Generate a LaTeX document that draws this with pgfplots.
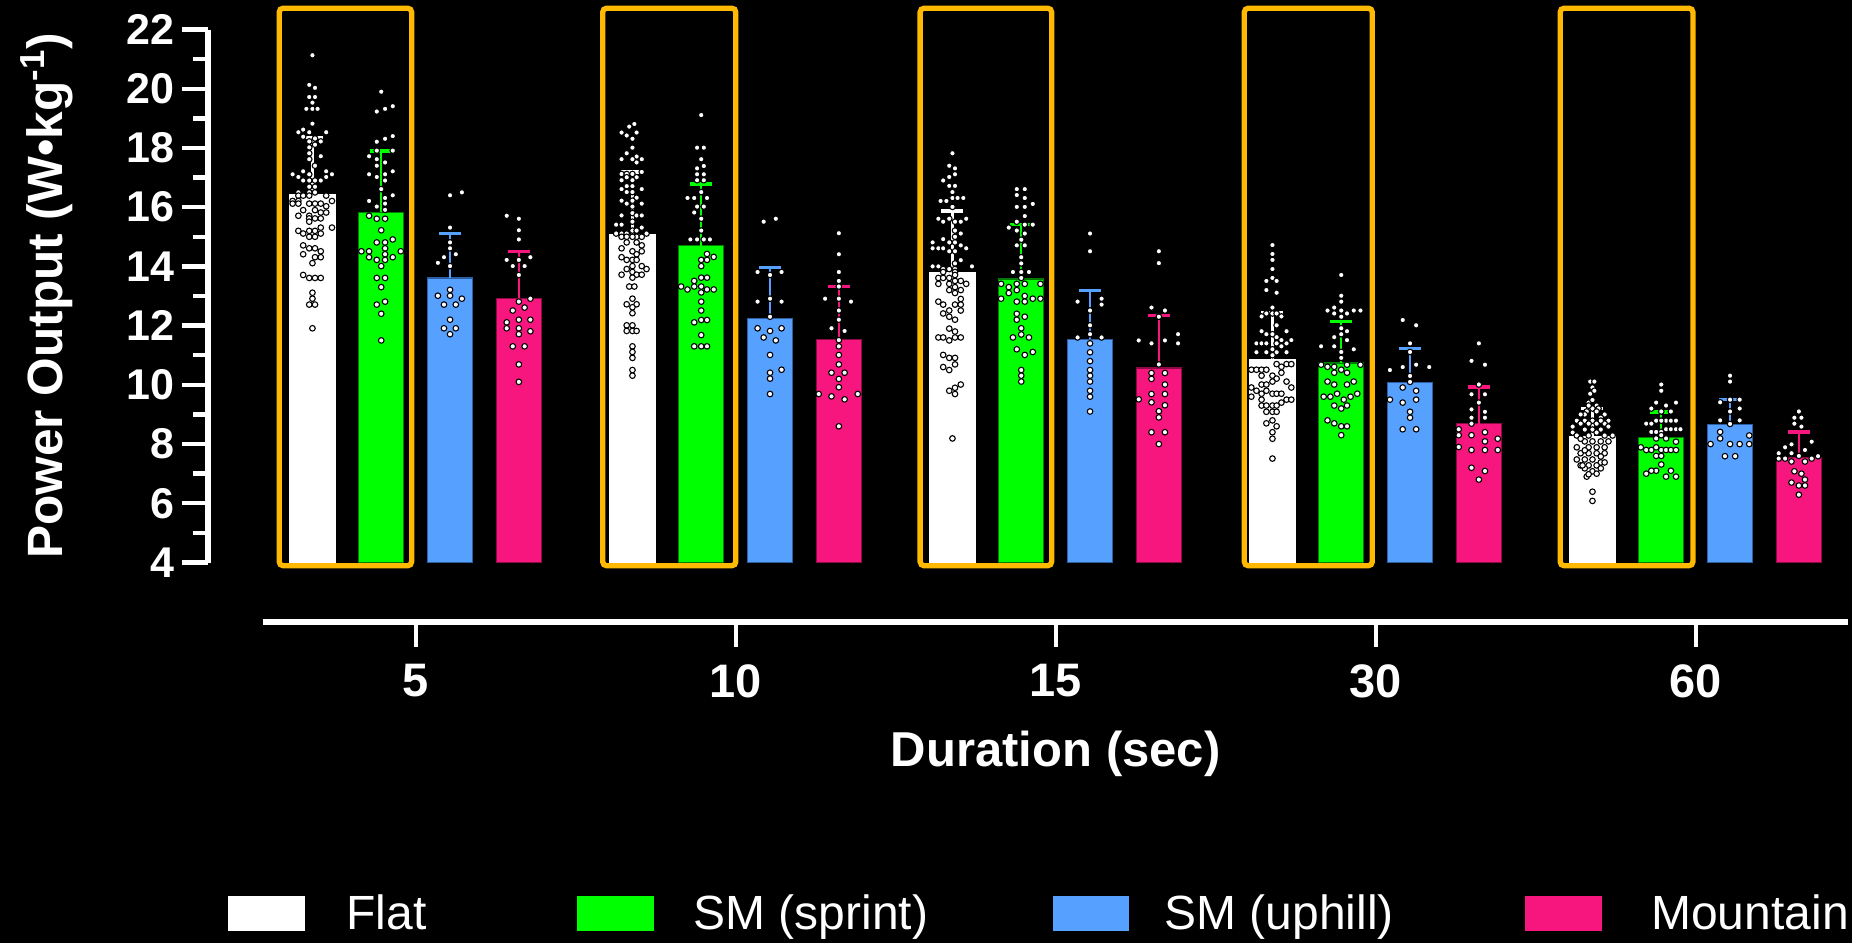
\documentclass[border=0pt]{standalone}
\usepackage{pgfplots}
\pgfplotsset{compat=1.18}
\usepackage{pgfplotstable}
\usepackage{fontspec}
\setmainfont{Liberation Sans}

\definecolor{sprintfill}{RGB}{0,255,0}
\definecolor{sprintedge}{RGB}{0,125,0}
\definecolor{uphillfill}{RGB}{86,161,255}
\definecolor{uphilledge}{RGB}{45,95,165}
\definecolor{mountfill}{RGB}{246,22,126}
\definecolor{mountedge}{RGB}{140,10,70}
\definecolor{boxorange}{RGB}{255,185,0}

% group means and SD (g: 0=5 s, 1=10 s, 2=15 s, 3=30 s, 4=60 s)
\pgfplotstableread{
g flat fsd sprint ssd uphill usd mountain msd
0 16.41 1.95 15.83 2.07 13.61 1.51 12.91 1.60
1 15.06 2.13 14.70 2.08 12.25 1.72 11.54 1.78
2 13.78 2.09 13.58 1.83 11.54 1.64 10.57 1.78
3 10.84 1.61 10.74 1.40 10.08 1.14  8.69 1.24
4  8.25 0.95  8.23 0.85  8.66 0.85  7.55 0.86
}\means

% individual riders: g = duration group, dx = swarm offset, v = power output
\pgfplotstableread{
g dx v
0 0 21.13
0 -0.010 20.13
0 0.008 20.03
0 -0.010 19.72
0 0.008 19.72
0 0 19.53
0 -0.019 19.32
0 0 19.32
0 0.016 19.32
0 0 18.82
0 -0.029 18.62
0 -0.044 18.53
0 -0.010 18.53
0 0.043 18.53
0 -0.029 18.38
0 0.008 18.32
0 -0.010 18.22
0 0.026 18.22
0 -0.010 18.02
0 0.008 18.11
0 -0.010 17.82
0 0.026 17.72
0 -0.010 17.62
0 0.008 17.40
0 -0.029 17.21
0 0.043 17.21
0 -0.062 17.11
0 -0.010 17.11
0 0.061 17.11
0 -0.044 17.02
0 0.043 17.02
0 -0.029 16.90
0 -0.010 16.90
0 0.008 16.90
0 0.026 16.90
0 -0.010 16.69
0 0.008 16.69
0 -0.044 16.50
0 -0.010 16.50
0 0.008 16.50
0 -0.044 16.39
0 -0.029 16.39
0 -0.010 16.39
0 0.043 16.39
0 -0.062 16.21
0 -0.044 16.21
0 0.061 16.21
0 -0.062 16.12
0 -0.044 16.12
0 -0.010 16.12
0 0.008 16.12
0 0.026 16.12
0 0.043 16.03
0 -0.029 15.90
0 0.008 15.90
0 0.026 15.82
0 0.043 15.82
0 -0.044 15.71
0 -0.010 15.71
0 -0.010 15.62
0 0.008 15.62
0 0.026 15.62
0 -0.010 15.51
0 0.061 15.31
0 0.026 15.31
0 -0.044 15.20
0 -0.010 15.20
0 0.008 15.20
0 -0.029 15.11
0 0.026 15.11
0 -0.010 15.00
0 0.008 15.00
0 -0.029 14.71
0 -0.010 14.61
0 0.008 14.61
0 0.026 14.51
0 -0.029 14.41
0 0.008 14.31
0 0.026 14.31
0 0 14.11
0 -0.029 13.71
0 -0.010 13.61
0 0.008 13.61
0 0.026 13.61
0 0 13.11
0 0 12.91
0 -0.010 12.71
0 0.008 12.71
0 0 11.91
1 0.006 18.81
1 -0.010 18.72
1 -0.034 18.52
1 0.013 18.52
1 -0.018 18.42
1 0 18.31
1 0 18.01
1 -0.018 17.82
1 0.013 17.71
1 -0.034 17.62
1 0 17.62
1 0.029 17.62
1 0.013 17.51
1 -0.034 17.12
1 -0.018 17.12
1 0 17.12
1 0.029 17.19
1 -0.018 17.01
1 0.013 17.01
1 -0.034 16.91
1 0 16.91
1 -0.018 16.71
1 0 16.71
1 -0.034 16.61
1 0.029 16.61
1 -0.018 16.51
1 0 16.51
1 0.013 16.32
1 -0.034 16.22
1 0 16.22
1 -0.018 16.12
1 0.029 16.12
1 0 16.02
1 -0.034 15.72
1 0 15.80
1 0.013 15.72
1 0.029 15.72
1 -0.051 15.41
1 -0.034 15.41
1 0 15.51
1 0.029 15.31
1 0 15.21
1 0.013 15.21
1 -0.051 15.11
1 -0.034 15.11
1 -0.018 15.11
1 0.044 15.11
1 0.013 15.00
1 -0.034 15.00
1 -0.018 15.00
1 0 15.00
1 0.029 15.00
1 -0.018 14.81
1 0.013 14.81
1 0.029 14.71
1 -0.034 14.61
1 0 14.51
1 0.029 14.51
1 0.013 14.41
1 -0.034 14.31
1 -0.018 14.22
1 0 14.22
1 0.013 14.22
1 -0.018 13.91
1 0 14.01
1 0.029 14.01
1 0.044 13.91
1 -0.034 13.72
1 0 13.81
1 0.013 13.72
1 0.029 13.72
1 0 13.62
1 -0.010 13.32
1 0.006 13.32
1 0 12.91
1 -0.018 12.72
1 0.013 12.72
1 0 12.62
1 0 12.42
1 -0.018 12.01
1 0 12.01
1 -0.018 11.82
1 0 11.82
1 0.013 11.82
1 0 11.30
1 0 11.11
1 0 10.91
1 0 10.50
1 0 10.31
2 0 17.82
2 -0.010 17.40
2 0.008 17.31
2 0.008 17.11
2 -0.010 17.02
2 -0.029 16.90
2 -0.010 16.72
2 0.008 16.72
2 0 16.51
2 -0.037 16.21
2 -0.019 16.21
2 0 16.31
2 0.016 16.31
2 0.034 16.31
2 0 16.01
2 -0.044 15.61
2 -0.029 15.51
2 -0.010 15.61
2 0.008 15.51
2 0.026 15.51
2 0.043 15.61
2 0.008 15.21
2 0.026 15.11
2 0.008 15.00
2 -0.029 14.92
2 0.008 14.81
2 -0.062 14.81
2 -0.010 14.81
2 0.026 14.71
2 0.043 14.61
2 -0.062 14.61
2 -0.044 14.61
2 -0.029 14.61
2 -0.010 14.51
2 0.008 14.51
2 0.026 14.21
2 0.008 14.10
2 -0.062 14.00
2 -0.044 14.00
2 0.061 14.00
2 -0.029 13.91
2 -0.010 13.91
2 0.008 13.91
2 -0.029 13.81
2 0.008 13.81
2 0.008 13.71
2 -0.044 13.61
2 -0.029 13.61
2 -0.010 13.61
2 0.008 13.51
2 0.026 13.51
2 0.043 13.41
2 -0.044 13.41
2 -0.010 13.41
2 0.008 13.30
2 -0.010 13.20
2 0.026 13.20
2 0.008 13.10
2 0.026 12.90
2 -0.044 12.81
2 -0.029 12.71
2 0.008 12.71
2 0.026 12.71
2 0.026 12.51
2 -0.010 12.51
2 -0.029 12.41
2 -0.010 12.30
2 0.008 12.20
2 -0.010 11.90
2 0.008 11.80
2 -0.044 11.60
2 -0.029 11.60
2 0.008 11.60
2 0.026 11.60
2 -0.010 11.50
2 -0.029 11.01
2 -0.010 10.91
2 0.008 10.91
2 0.008 10.69
2 -0.029 10.60
2 -0.010 10.50
2 0.026 10.01
2 0.008 9.90
2 -0.010 9.80
2 0.008 9.69
2 0 8.19
3 0 14.72
3 0 14.42
3 0 14.22
3 0 13.91
3 -0.019 13.51
3 0 13.61
3 0.013 13.51
3 -0.019 13.20
3 0.013 13.11
3 0 12.61
3 -0.019 12.41
3 0 12.41
3 0.013 12.41
3 -0.034 12.31
3 0.028 12.31
3 0.013 12.01
3 -0.034 11.81
3 0.044 11.81
3 -0.019 11.71
3 0 11.71
3 0.013 11.61
3 0.028 11.51
3 0.059 11.51
3 -0.050 11.40
3 -0.034 11.40
3 -0.019 11.40
3 0.013 11.40
3 0.044 11.40
3 0.028 11.30
3 0 11.20
3 -0.050 11.10
3 -0.019 11.10
3 0.013 11.10
3 0.044 11.10
3 0 11.00
3 0.013 10.70
3 0.028 10.61
3 0.044 10.70
3 0.059 10.70
3 -0.066 10.51
3 -0.050 10.51
3 -0.034 10.51
3 -0.019 10.51
3 0.028 10.41
3 -0.034 10.31
3 0 10.31
3 0.013 10.21
3 0 10.11
3 0.044 10.11
3 -0.066 9.91
3 -0.034 10.01
3 -0.019 10.01
3 0.059 9.91
3 -0.050 9.80
3 -0.034 9.70
3 -0.019 9.80
3 0 9.70
3 0.013 9.70
3 0.028 9.70
3 -0.066 9.60
3 0.044 9.50
3 0.059 9.50
3 -0.034 9.50
3 0.028 9.40
3 -0.034 9.30
3 -0.019 9.30
3 0 9.30
3 0.013 9.30
3 -0.019 9.09
3 0 9.09
3 0.013 9.09
3 0 8.80
3 -0.019 8.70
3 0.013 8.60
3 0 8.40
3 0 8.18
3 0 7.51
4 -0.007 10.11
4 0.006 10.11
4 0 9.91
4 -0.007 9.70
4 0.006 9.80
4 -0.012 9.40
4 0 9.49
4 0.013 9.30
4 -0.018 9.10
4 0 9.20
4 0.019 9.20
4 -0.024 9.00
4 -0.037 9.00
4 0.038 9.00
4 -0.049 8.79
4 -0.024 8.79
4 0 8.79
4 0.026 8.89
4 0.050 8.79
4 -0.037 8.69
4 -0.012 8.69
4 0.013 8.69
4 0.038 8.69
4 -0.024 8.49
4 0 8.49
4 0.026 8.49
4 -0.062 8.39
4 -0.049 8.29
4 -0.012 8.29
4 0.013 8.39
4 0.038 8.29
4 0.063 8.29
4 -0.024 8.09
4 0 8.09
4 0.026 8.09
4 -0.012 7.89
4 0.013 7.89
4 -0.037 7.69
4 -0.012 7.69
4 0.013 7.69
4 0.038 7.69
4 -0.024 7.48
4 0 7.48
4 0.026 7.38
4 -0.037 7.28
4 -0.012 7.28
4 0.013 7.28
4 0 7.08
4 -0.018 6.90
4 0.013 7.00
4 0 6.39
4 0 6.08
4 -0.012 9.30
4 0.013 9.10
4 0.026 8.79
4 -0.062 8.59
4 0.050 8.59
4 -0.037 8.18
4 0.050 8.09
4 -0.049 7.89
4 0.038 7.89
4 -0.024 7.79
4 0.026 7.58
4 -0.049 7.48
4 0.038 7.38
4 -0.024 7.18
4 0.026 7.18
4 -0.012 6.98
4 -0.031 7.28
}\flatdots

\pgfplotstableread{
g dx v
0 0 19.90
0 -0.014 19.23
0 0.012 19.32
0 0.036 19.41
0 -0.014 18.21
0 0.012 18.31
0 0.036 18.40
0 -0.014 17.91
0 0.036 17.91
0 -0.038 17.72
0 -0.014 17.62
0 -0.014 17.40
0 0.012 17.51
0 -0.038 17.11
0 -0.014 17.02
0 0.012 17.11
0 0.036 17.21
0 0.012 16.90
0 0 16.61
0 0.036 16.40
0 0.012 16.31
0 -0.038 16.21
0 -0.014 16.02
0 0.012 16.12
0 0.012 15.91
0 -0.038 15.71
0 -0.014 15.61
0 0.012 15.61
0 0 15.22
0 -0.014 14.81
0 0.012 14.81
0 0.036 14.91
0 0.012 14.61
0 -0.062 14.51
0 -0.038 14.51
0 0.061 14.51
0 0.012 14.41
0 -0.038 14.31
0 -0.014 14.22
0 0.012 14.22
0 0.036 14.31
0 0 14.01
0 -0.014 13.61
0 0.012 13.61
0 0 13.30
0 0.012 12.81
0 -0.014 12.71
0 0 12.40
0 0 11.50
1 0 19.11
1 -0.013 18.01
1 0.008 18.01
1 0 17.62
1 0.008 17.39
1 -0.013 17.31
1 -0.013 17.11
1 0.008 17.11
1 -0.013 16.91
1 0.008 16.91
1 0 16.51
1 -0.043 16.31
1 -0.022 16.31
1 0.018 16.31
1 -0.013 16.02
1 0.008 16.02
1 -0.022 15.82
1 0 15.61
1 0 15.21
1 -0.034 14.91
1 -0.013 14.91
1 0.008 14.91
1 0.027 14.91
1 0.018 14.42
1 0.039 14.32
1 0 14.22
1 0.018 14.22
1 0 14.01
1 -0.022 13.51
1 0 13.62
1 0.018 13.62
1 -0.063 13.32
1 -0.043 13.22
1 -0.022 13.32
1 0 13.32
1 0 13.12
1 0.018 13.22
1 0.039 13.22
1 0 12.81
1 0 12.51
1 -0.022 12.11
1 0 12.19
1 0.018 12.19
1 0 11.68
1 -0.022 11.30
1 0 11.30
1 0.018 11.30
2 -0.014 16.61
2 0.011 16.61
2 -0.014 16.41
2 0.011 16.31
2 0.036 16.11
2 -0.014 16.01
2 0.011 16.01
2 0.011 15.70
2 -0.014 15.51
2 -0.039 15.31
2 0.011 15.41
2 0.036 15.41
2 -0.014 15.21
2 0.011 15.11
2 0 14.90
2 -0.014 14.71
2 0.011 14.71
2 0 14.31
2 0 14.10
2 -0.026 13.81
2 0 13.81
2 0.024 13.81
2 0 13.61
2 -0.063 13.41
2 -0.039 13.30
2 -0.014 13.41
2 0.011 13.41
2 0.060 13.41
2 -0.014 13.20
2 -0.039 13.10
2 0.011 13.00
2 -0.063 12.91
2 0.036 12.91
2 0.060 12.91
2 -0.014 12.81
2 0.011 12.81
2 -0.014 12.40
2 0.011 12.30
2 -0.014 12.20
2 0 11.91
2 -0.026 11.60
2 0 11.70
2 0.024 11.60
2 -0.014 11.20
2 0.036 11.11
2 0.011 11.01
2 0 10.50
2 0 10.31
2 0 10.11
3 0 13.71
3 0 13.01
3 0 12.81
3 -0.022 12.61
3 -0.043 12.51
3 0 12.51
3 0.018 12.41
3 0.039 12.51
3 0.060 12.51
3 -0.022 12.41
3 0 12.30
3 0 11.91
3 0.018 11.81
3 -0.022 11.61
3 0.018 11.51
3 0 11.71
3 -0.063 11.30
3 -0.022 11.30
3 0 11.11
3 0.039 11.20
3 0 10.91
3 -0.063 10.68
3 -0.043 10.61
3 -0.022 10.61
3 0 10.51
3 0.018 10.68
3 0.060 10.68
3 -0.022 10.41
3 0.018 10.41
3 -0.043 10.11
3 -0.022 10.01
3 0.018 10.01
3 0.039 10.11
3 -0.055 9.60
3 -0.034 9.60
3 -0.013 9.70
3 0.008 9.50
3 0.029 9.60
3 0.050 9.70
3 -0.022 9.30
3 0 9.20
3 0.018 9.30
3 -0.043 8.80
3 -0.022 8.70
3 0 8.60
3 0.018 8.60
3 0 8.30
4 0 10.01
4 0 9.80
4 -0.016 9.40
4 0.015 9.30
4 0.046 9.40
4 -0.031 9.20
4 0 9.10
4 0.030 9.10
4 -0.016 8.79
4 0.015 8.79
4 0.030 8.79
4 0.046 8.79
4 -0.047 8.69
4 -0.031 8.69
4 0 8.79
4 -0.031 8.41
4 -0.016 8.41
4 0 8.41
4 0.015 8.50
4 0.030 8.50
4 0.046 8.50
4 0.060 8.50
4 -0.016 8.19
4 0.015 8.19
4 0 8.30
4 0.046 8.08
4 -0.064 7.89
4 -0.047 7.80
4 -0.031 7.80
4 -0.016 7.89
4 0 7.80
4 0.015 7.80
4 0.030 7.80
4 0.046 7.80
4 -0.016 7.60
4 0 7.60
4 0 7.31
4 -0.016 7.10
4 0.030 7.10
4 -0.047 7.00
4 -0.031 7.10
4 0.015 6.90
4 0.046 6.90
}\sprintdots

\pgfplotstableread{
g dx v
0 0 16.40
0 0.037 16.50
0 0 15.31
0 0 14.81
0 0 14.61
0 0.018 14.41
0 -0.019 14.31
0 -0.038 14.12
0 0 14.01
0 0 13.21
0 -0.038 13.01
0 0 13.01
0 0.037 12.91
0 -0.019 12.71
0 0.018 12.71
0 0 12.20
0 -0.019 11.91
0 0.018 11.91
0 0 11.71
1 -0.020 15.51
1 0.018 15.61
1 -0.039 13.81
1 0 13.71
1 0.036 13.81
1 -0.039 12.81
1 0 12.91
1 0.036 12.81
1 0 12.30
1 -0.039 11.91
1 0 11.82
1 0.036 11.91
1 -0.020 11.60
1 0.018 11.50
1 0 11.01
1 0.036 10.51
1 0 10.41
1 0 10.21
1 0 9.69
2 0 15.11
2 0 14.51
2 -0.039 12.81
2 0.036 12.91
2 0.036 12.71
2 0 12.51
2 0 12.01
2 0 11.71
2 -0.039 11.60
2 0.036 11.60
2 0 11.40
2 0 11.10
2 0 10.80
2 0 10.50
2 0 10.31
2 0 10.11
2 0 9.80
2 0 9.60
2 0 9.10
3 -0.023 12.19
3 0.019 12.01
3 0 11.40
3 0 11.11
3 -0.063 10.50
3 -0.023 10.60
3 0.019 10.68
3 0.060 10.60
3 0 10.30
3 0 10.10
3 -0.023 9.91
3 0.019 9.80
3 -0.063 9.50
3 -0.023 9.40
3 0.019 9.50
3 0 9.09
3 0 8.89
3 -0.023 8.50
3 0.019 8.50
4 0 10.31
4 0 10.11
4 -0.031 9.41
4 0 9.50
4 0.030 9.50
4 0 9.10
4 0.030 9.20
4 -0.031 8.80
4 0.030 8.80
4 0 8.68
4 -0.031 8.41
4 -0.031 8.19
4 0.060 8.29
4 -0.061 8.00
4 0 8.00
4 0.030 8.00
4 0.060 8.00
4 -0.016 7.59
4 0.016 7.59
}\uphilldots

\pgfplotstableread{
g dx v
0 -0.038 15.71
0 0 15.61
0 0 15.22
0 0 14.91
0 -0.038 14.22
0 0 14.22
0 0.036 14.31
0 -0.019 14.01
0 0.018 14.01
0 0 13.71
0 0.036 12.91
0 0 12.81
0 0.018 12.61
0 -0.019 12.51
0 -0.038 12.11
0 0 12.20
0 0.036 12.20
0 -0.038 11.91
0 0 11.91
0 0.036 11.81
0 0 11.71
0 -0.019 11.30
0 0.018 11.30
0 0 10.69
0 0 10.10
1 0 15.12
1 0 14.41
1 0 13.81
1 0 13.51
1 0 13.32
1 -0.043 12.91
1 0 12.91
1 0.038 12.81
1 0 12.51
1 0 12.20
1 -0.023 11.91
1 0.018 11.82
1 0 11.51
1 0 11.30
1 0 11.01
1 0 10.69
1 -0.023 10.41
1 0.018 10.41
1 0 10.20
1 0 9.92
1 -0.063 9.69
1 -0.023 9.61
1 0.018 9.51
1 0.059 9.69
1 0 8.60
2 0 14.51
2 0 14.11
2 -0.023 12.61
2 0.019 12.51
2 0 12.30
2 -0.063 11.50
2 -0.023 11.40
2 0.019 11.50
2 0.060 11.71
2 0.060 11.40
2 0 10.69
2 -0.023 10.40
2 0.019 10.40
2 -0.023 10.20
2 0.019 10.01
2 -0.063 9.51
2 -0.023 9.69
2 0.019 9.69
2 -0.023 9.41
2 0.019 9.31
2 0 9.11
2 0 8.90
2 -0.023 8.40
2 0.019 8.40
2 0 8.00
3 0 11.40
3 -0.023 10.81
3 0.019 10.68
3 0 10.01
3 -0.023 9.68
3 0.019 9.68
3 0 9.40
3 -0.023 9.17
3 0.019 9.09
3 -0.023 8.89
3 0.019 8.89
3 -0.023 8.69
3 -0.063 8.50
3 -0.063 8.30
3 -0.023 8.30
3 0.019 8.40
3 0.059 8.18
3 0.019 8.09
3 -0.063 7.90
3 -0.023 7.80
3 0.019 7.80
3 0.059 7.80
3 -0.023 7.20
3 0.019 7.09
3 0 6.80
4 0 9.10
4 -0.014 8.89
4 0.008 8.89
4 -0.014 8.69
4 0.008 8.59
4 0.040 8.08
4 -0.023 7.99
4 -0.043 7.89
4 -0.063 7.69
4 -0.023 7.69
4 0.019 7.80
4 0 7.60
4 -0.063 7.51
4 -0.043 7.51
4 -0.023 7.41
4 0.019 7.41
4 0.040 7.51
4 0.060 7.59
4 -0.014 7.08
4 0.008 7.00
4 0.019 6.80
4 -0.023 6.70
4 0 6.60
4 0.019 6.60
4 0 6.29
}\mountaindots

\pgfplotsset{
  rider/.style={only marks, mark=*, mark size=1.4pt, forget plot,
    mark options={fill=white, draw=black, line width=0.55pt}},
  meanbar/.style={ybar, bar width=22.5pt, bar shift=0pt, forget plot,
    fill=#1fill, draw=#1edge, line width=0.7pt},
}

\begin{document}
\begin{tikzpicture}
\useasboundingbox (0,0) rectangle (926pt,471.5pt);
\fill[black] (0,0) rectangle (926pt,471.5pt);

% frames around the Flat / SM (sprint) pairs
\begin{axis}[
  at={(104pt,190.25pt)}, anchor=south west,
  scale only axis, width=820pt, height=266.5pt,
  xmin=-0.6484, xmax=4.4766, ymin=4, ymax=22,
  hide axis, clip=false]
\addplot[boxorange, line width=2.65pt, rounded corners=2pt] coordinates {(-0.426,3.89) (-0.012,3.89) (-0.012,22.72) (-0.426,22.72)} -- cycle;
\addplot[boxorange, line width=2.65pt, rounded corners=2pt] coordinates {(0.585,3.89) (1.001,3.89) (1.001,22.72) (0.585,22.72)} -- cycle;
\addplot[boxorange, line width=2.65pt, rounded corners=2pt] coordinates {(1.577,3.89) (1.988,3.89) (1.988,22.72) (1.577,22.72)} -- cycle;
\addplot[boxorange, line width=2.65pt, rounded corners=2pt] coordinates {(2.590,3.89) (2.990,3.89) (2.990,22.72) (2.590,22.72)} -- cycle;
\addplot[boxorange, line width=2.65pt, rounded corners=2pt] coordinates {(3.577,3.89) (3.992,3.89) (3.992,22.72) (3.577,22.72)} -- cycle;
\end{axis}

% bars, SD whiskers and riders
\begin{axis}[
  at={(104pt,190.25pt)}, anchor=south west,
  scale only axis, width=820pt, height=266.5pt,
  xmin=-0.6484, xmax=4.4766, ymin=4, ymax=22,
  axis x line=none, axis y line*=left,
  y axis line style={-, white, line width=2.6pt},
  ytick={4,6,...,22}, minor y tick num=1,
  tick align=outside, major tick length=13pt, minor tick length=7.5pt,
  major tick style={white, line width=2.2pt},
  minor tick style={white, line width=2.2pt},
  /pgf/number format/assume math mode=true,
  yticklabel style={font=\fontsize{21.5}{21.5}\selectfont\bfseries, text=white, inner sep=0pt, xshift=-3.5pt},
  ylabel={Power Output (W•kg\textsuperscript{-1})},
  every axis y label/.style={at={(axis description cs:-0.0887,0.5)}, rotate=90, anchor=base,
    font=\fontsize{24.8}{24.8}\selectfont\bfseries, text=white},
  legend columns=4,
  legend cell align=left,
  legend style={at={(axis description cs:0.0122,-0.658)}, anchor=west,
    draw=none, fill=none, text=white, inner sep=0pt, outer sep=0pt,
    nodes={inner sep=0pt},
    font=\fontsize{24}{24}\selectfont,
    /tikz/column 1/.style={column sep=21pt},
    /tikz/column 2/.style={column sep=75.3pt},
    /tikz/column 3/.style={column sep=20pt},
    /tikz/column 4/.style={column sep=62.2pt},
    /tikz/column 5/.style={column sep=17.8pt},
    /tikz/column 6/.style={column sep=65.5pt},
    /tikz/column 7/.style={column sep=25pt}},
]
\addlegendimage{legend image code/.code={\fill[white] (0pt,-8.4pt) rectangle (37.8pt,8.4pt);}}
\addlegendentry{Flat}
\addlegendimage{legend image code/.code={\fill[sprintfill] (0pt,-8.4pt) rectangle (37.8pt,8.4pt);}}
\addlegendentry{SM (sprint)}
\addlegendimage{legend image code/.code={\fill[uphillfill] (0pt,-8.4pt) rectangle (37.8pt,8.4pt);}}
\addlegendentry{SM (uphill)}
\addlegendimage{legend image code/.code={\fill[mountfill] (0pt,-8.4pt) rectangle (37.8pt,8.4pt);}}
\addlegendentry{Mountain}

\addplot[ybar, bar width=22.5pt, bar shift=0pt, forget plot, fill=white, draw=white, line width=0.7pt,
  error bars/.cd, y dir=plus, y explicit,
  error bar style={white, line width=1.2pt},
  error mark options={rotate=90, white, mark size=5.5pt, line width=1.6pt}]
  table[x expr=\thisrow{g}-0.322, y=flat, y error=fsd] {\means};
\addplot[meanbar=sprint,
  error bars/.cd, y dir=plus, y explicit,
  error bar style={sprintfill, line width=1.2pt},
  error mark options={rotate=90, sprintfill, mark size=5.5pt, line width=1.6pt}]
  table[x expr=\thisrow{g}-0.107, y=sprint, y error=ssd] {\means};
\addplot[meanbar=uphill,
  error bars/.cd, y dir=plus, y explicit,
  error bar style={uphillfill, line width=1.2pt},
  error mark options={rotate=90, uphillfill, mark size=5.5pt, line width=1.6pt}]
  table[x expr=\thisrow{g}+0.108, y=uphill, y error=usd] {\means};
\addplot[meanbar=mount,
  error bars/.cd, y dir=plus, y explicit,
  error bar style={mountfill, line width=1.2pt},
  error mark options={rotate=90, mountfill, mark size=5.5pt, line width=1.6pt}]
  table[x expr=\thisrow{g}+0.323, y=mountain, y error=msd] {\means};

\addplot[rider] table[x expr=\thisrow{g}+\thisrow{dx}-0.322, y=v] {\flatdots};
\addplot[rider] table[x expr=\thisrow{g}+\thisrow{dx}-0.107, y=v] {\sprintdots};
\addplot[rider] table[x expr=\thisrow{g}+\thisrow{dx}+0.108, y=v] {\uphilldots};
\addplot[rider] table[x expr=\thisrow{g}+\thisrow{dx}+0.323, y=v] {\mountaindots};
\end{axis}

% duration axis
\begin{axis}[
  at={(131.7pt,160.4pt)}, anchor=south west,
  scale only axis, width=792.3pt, height=20pt,
  xmin=-0.4753, xmax=4.4766, ymin=0, ymax=1,
  axis y line=none, axis x line*=bottom,
  x axis line style={-, white, line width=2.8pt},
  xtick={0,1,2,3,4}, xticklabels={5,10,15,30,60},
  tick align=outside, major tick length=12.35pt,
  major tick style={white, line width=2pt},
  xticklabel style={font=\fontsize{23.5}{23.5}\selectfont\bfseries, text=white, yshift=-5.3pt},
  xlabel={Duration (sec)},
  every axis x label/.style={at={(axis description cs:0.5,0)}, anchor=base, yshift=-72.25pt,
    font=\fontsize{24.5}{24.5}\selectfont\bfseries, text=white},
]
\addplot[draw=none] coordinates {(0,0.5)};
\end{axis}
\end{tikzpicture}
\end{document}
